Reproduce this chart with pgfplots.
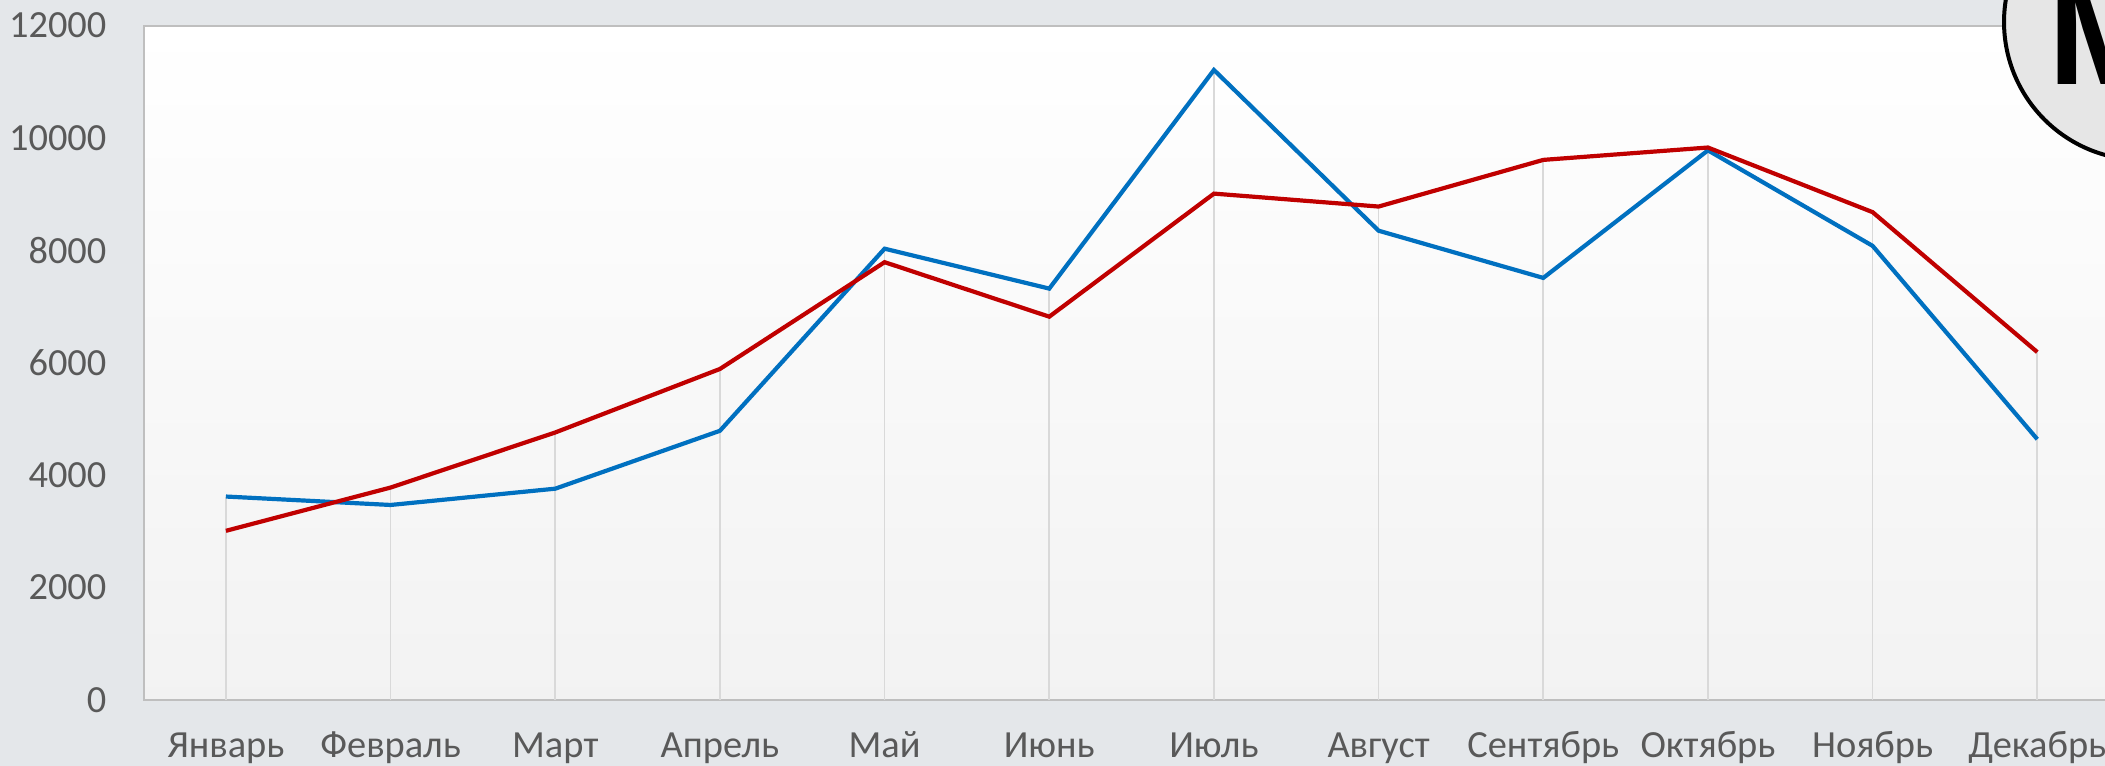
\documentclass[border=0pt]{standalone}
\usepackage{pgfplots}
\pgfplotsset{compat=1.18}
\usepackage{fontspec}
\setmainfont{Carlito}
\newfontfamily\logofont{Liberation Sans}
\definecolor{bg}{HTML}{E4E7EA}
\definecolor{blueline}{HTML}{0070C0}
\definecolor{redline}{HTML}{C00000}
\definecolor{ticktext}{HTML}{595959}
\definecolor{axisgray}{HTML}{BFBFBF}
\definecolor{dropgray}{HTML}{D9D9D9}
\definecolor{logofill}{HTML}{E6E6E6}
\pgfplotstableread{
x blue red
0 3620 3010
1 3470 3780
2 3760 4760
3 4790 5890
4 8030 7790
5 7320 6820
6 11210 9010
7 8350 8780
8 7510 9610
9 9780 9830
10 8080 8680
11 4640 6190
}\datatable
\pgfplotstableread{
x top
0 3620
1 3780
2 4760
3 5890
4 8030
5 7320
6 11210
7 8780
8 9610
9 9830
10 8680
11 6190
}\droptable
\begin{document}
\begin{tikzpicture}
\useasboundingbox (0pt,0pt) rectangle (526.25pt,191.5pt);
\begin{scope}
\clip (0pt,0pt) rectangle (526.25pt,191.5pt);
\fill[bg] (0pt,0pt) rectangle (526.25pt,191.5pt);
\begin{axis}[
  at={(35.9pt,16.5pt)}, anchor=south west,
  scale only axis, width=494pt, height=168.6pt,
  xmin=-0.5, xmax=11.5, ymin=0, ymax=12000,
  axis background/.style={top color=white, bottom color=black!5},
  axis line style={draw=axisgray, line width=0.5pt},
  xtick={0,...,11},
  xticklabels={Январь,Февраль,Март,Апрель,Май,Июнь,Июль,Август,Сентябрь,Октябрь,Ноябрь,Декабрь},
  ytick={0,2000,4000,6000,8000,10000,12000},
  scaled y ticks=false,
  /pgf/number format/1000 sep={},
  /pgf/number format/assume math mode=true,
  tick style={draw=none},
  ticklabel style={font=\fontsize{9.6}{10}\selectfont, text=ticktext},
  yticklabel style={anchor=east, inner sep=0pt, xshift=-9.1pt},
  xticklabel style={anchor=base, inner sep=0pt, yshift=-14.5pt},
]
\addplot[ycomb, draw=dropgray, line width=0.4pt, mark=none] table[x=x, y=top] {\droptable};
\addplot[draw=blueline, line width=1.05pt, mark=none] table[x=x, y=blue] {\datatable};
\addplot[draw=redline, line width=1.05pt, mark=none] table[x=x, y=red] {\datatable};
\end{axis}
\draw[line width=1pt, fill=logofill] (535.5pt,186pt) circle (34.5pt);
\node[anchor=south west, inner sep=0pt] at (511.9pt,170.25pt) {\logofont\bfseries\fontsize{36}{36}\selectfont M};
\end{scope}
\end{tikzpicture}
\end{document}
